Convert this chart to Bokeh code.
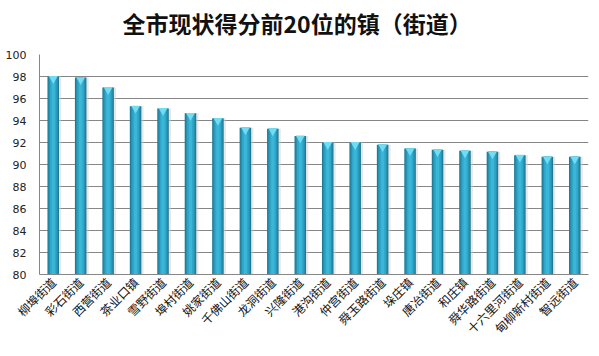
import math
from bokeh.plotting import figure
from bokeh.models import ColumnDataSource, Range1d, FixedTicker, Title
from bokeh.transform import dodge
from bokeh.embed import file_html
from bokeh.resources import INLINE

title_text = "全市现状得分前20位的镇（街道）"
towns = ["柳埠街道", "彩石街道", "西营街道", "茶业口镇", "雪野街道", "埠村街道", "姚家街道",
         "千佛山街道", "龙洞街道", "兴隆街道", "港沟街道", "仲宫街道", "舜玉路街道", "垛庄镇",
         "唐冶街道", "和庄镇", "舜华路街道", "十六里河街道", "甸柳新村街道", "智远街道"]
scores = [98.0, 97.9, 97.0, 95.3, 95.1, 94.65, 94.2, 93.35, 93.25, 92.6,
          92.0, 92.0, 91.8, 91.45, 91.35, 91.25, 91.15, 90.85, 90.7, 90.7]
y_ticks = [80, 82, 84, 86, 88, 90, 92, 94, 96, 98, 100]

src = ColumnDataSource(dict(town=towns, score=scores))

p = figure(x_range=towns, y_range=Range1d(80, 100), width=599, height=356,
           output_backend="svg", toolbar_location=None,
           min_border_left=39, min_border_right=11, min_border_top=0, min_border_bottom=82)
p.x_range.range_padding = 0
p.outline_line_color = None
p.background_fill_color = "white"

# shadow
p.vbar(x=dodge("town", 0.06, range=p.x_range), top="score", bottom=80, width=0.46,
       source=src, fill_color="#d0d0d0", fill_alpha=0.5, line_color=None)
# cylinder layers
p.vbar(x="town", top="score", bottom=80, width=0.42, source=src,
       fill_color="#217a95", line_color=None)
p.vbar(x="town", top="score", bottom=80, width=0.34, source=src,
       fill_color="#2891af", line_color=None)
p.vbar(x="town", top="score", bottom=80, width=0.24, source=src,
       fill_color="#30a6c8", line_color=None)
p.vbar(x="town", top="score", bottom=80, width=0.12, source=src,
       fill_color="#3ab6d8", line_color=None)
# top cap
p.scatter(x="town", y=dodge("score", -0.2), source=src, marker="inverted_triangle",
          size=9, fill_color="#72dcf2", line_color=None)

p.ygrid.grid_line_color = "#868686"
p.ygrid.grid_line_width = 1
p.xgrid.grid_line_color = None

p.yaxis.ticker = FixedTicker(ticks=y_ticks)
p.yaxis.minor_tick_line_color = None
p.yaxis.major_tick_line_color = None
p.yaxis.major_tick_out = 0
p.yaxis.axis_line_color = "#868686"
p.yaxis.major_label_text_font = "DejaVu Sans"
p.yaxis.major_label_text_font_size = "11px"
p.yaxis.major_label_text_color = "#222222"
p.yaxis.major_label_standoff = 13

p.xaxis.major_tick_line_color = None
p.xaxis.minor_tick_line_color = None
p.xaxis.major_tick_out = 0
p.xaxis.axis_line_color = "#868686"
p.xaxis.major_label_orientation = math.pi / 4
p.xaxis.major_label_text_font = "Noto Sans CJK SC"
p.xaxis.major_label_text_font_size = "12px"
p.xaxis.major_label_text_color = "#111111"
p.xaxis.major_label_standoff = 5

# thin spacer between the title and the plot frame
p.add_layout(Title(text=" ", text_font_size="5px", standoff=0), "above")

p.title = Title(text=title_text, align="left", offset=83, vertical_align="top",
                text_font="Noto Sans CJK SC", text_font_size="23px",
                text_font_style="bold", text_color="#111111", standoff=10)

open("out.html", "w").write(file_html(p, INLINE))
